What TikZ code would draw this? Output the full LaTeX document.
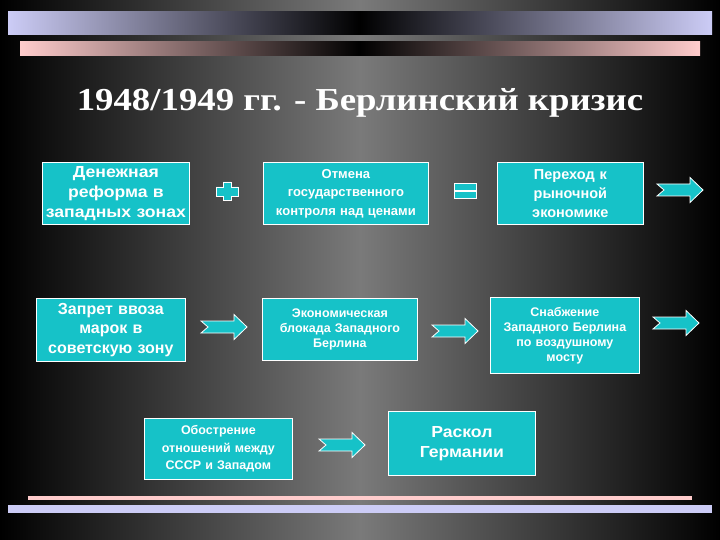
\documentclass[tikz,border=0pt]{standalone}
\usepackage{fontspec}
\setmainfont{Liberation Serif}
\newfontfamily\boxfont{Liberation Sans}
\newfontfamily\wideboxfont[FakeStretch=1.1]{Liberation Sans}
\newfontfamily\titlefont[FakeStretch=1.15]{Liberation Serif}
\usepackage{xcolor}
\usepackage{tikz}
\usetikzlibrary{arrows}

\definecolor{boxcyan}{RGB}{22,194,200}
\definecolor{lav}{RGB}{204,204,246}
\definecolor{pinkbar}{RGB}{255,204,204}
\definecolor{bggray}{RGB}{122,122,122}

\tikzset{
  box/.style={draw=white, line width=0.8pt, fill=boxcyan, text=white, align=center,
              anchor=north west, inner sep=2pt},
  bigtext/.style={font=\wideboxfont\bfseries\fontsize{16}{20}\selectfont},
  midtext/.style={font=\boxfont\bfseries\fontsize{14.5}{19}\selectfont},
  smalltext/.style={font=\boxfont\bfseries\fontsize{12.5}{15}\selectfont},
  sym/.style={draw=white, line width=0.8pt, fill=boxcyan},
  notched/.pic={\draw[sym] (0,-6) -- (33,-6) -- (33,-12.5) -- (46,0) -- (33,12.5)
                -- (33,6) -- (0,6) -- (7,0) -- cycle;}
}

\begin{document}
\begin{tikzpicture}[x=1pt,y=-1pt]
                % background and bars
                \shade[left color=black, right color=black, middle color=bggray] (0,0) rectangle (720,540);
                \shade[left color=lav, right color=lav, middle color=black] (8,12) rectangle (712,35);
                \shade[left color=pinkbar, right color=pinkbar, middle color=black] (20,42) rectangle (700,56);
                \fill[pinkbar] (28,496) rectangle (692,500);
                \fill[lav] (8,505) rectangle (712,513);
                \node[text=white, font=\titlefont\bfseries\fontsize{32}{38}\selectfont] (title) at (360,103) {1948/1949 гг. - Берлинский кризис};
                % first row
                \node[box, bigtext, minimum width=147, minimum height=62, text width=143] (money) at (42,162) {Денежная\\ реформа в\\ западных зонах};
                \node[box, font=\boxfont\bfseries\fontsize{13}{18.5}\selectfont, minimum width=165, minimum height=62, text width=161] (prices) at (263,162) {Отмена\\ государственного\\ контроля над ценами};
                \node[box, midtext, minimum width=146, minimum height=62, text width=142] (market) at (497,162) {Переход к\\ рыночной\\ экономике};
                \draw[sym] (223,182) -- (231,182) -- (231,187) -- (238,187) -- (238,196) -- (231,196) -- (231,200)
                      -- (223,200) -- (223,196) -- (216,196) -- (216,187) -- (223,187) -- cycle;
                \draw[sym] (454,183) rectangle (476,190);
                \draw[sym] (454,191) rectangle (476,198);
                \pic at (657,190) {notched};
                % second row
                \node[box, font=\boxfont\bfseries\fontsize{16}{19.5}\selectfont, minimum width=149, minimum height=63, text width=145] (ban) at (36,298) {Запрет ввоза\\ марок в\\ советскую зону};
                \node[box, smalltext, minimum width=155, minimum height=62, text width=151] (blockade) at (262,298) {Экономическая\\ блокада Западного\\ Берлина};
                \node[box, smalltext, minimum width=149, minimum height=76, text width=145] (airlift) at (490,297) {Снабжение\\ Западного Берлина\\ по воздушному\\ мосту};
                \pic at (201,327) {notched};
                \pic at (432,331) {notched};
                \pic at (653,323) {notched};
                % third row
                \node[box, font=\boxfont\bfseries\fontsize{12.5}{17.5}\selectfont, minimum width=148, minimum height=61, text width=144] (tension) at (144,418) {Обострение\\ отношений между\\ СССР и Западом};
                \node[box, bigtext, minimum width=147, minimum height=64, text width=143] (split) at (388,411) {Раскол\\ Германии\\[14pt]};
                \pic at (319,445) {notched};
            \end{tikzpicture}
\end{document}
